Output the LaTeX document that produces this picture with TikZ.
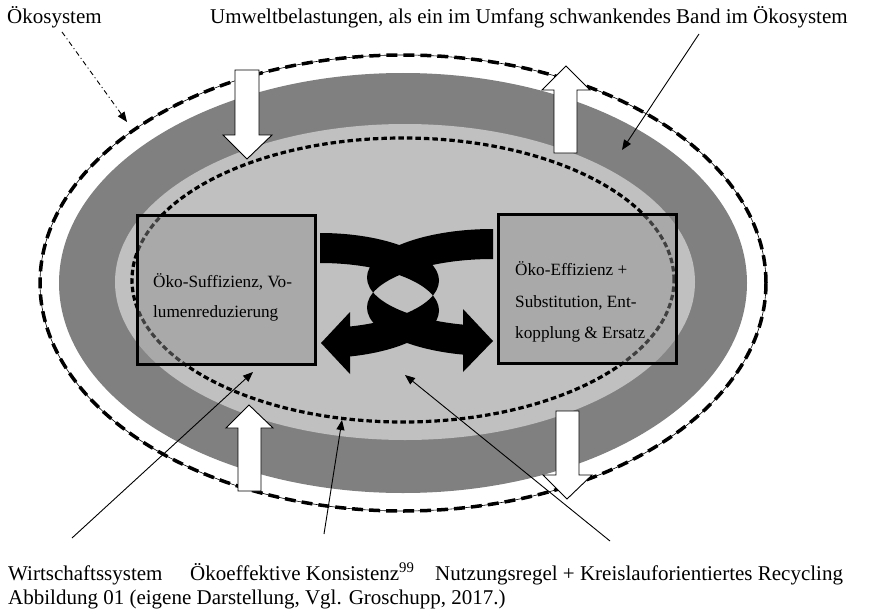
\documentclass[tikz,border=0pt]{standalone}
\usepackage{fontspec}
\setmainfont{Liberation Serif}
\usetikzlibrary{arrows.meta}
\definecolor{darkband}{RGB}{128,128,128}
\definecolor{lightcore}{RGB}{192,192,192}
\begin{document}
\begin{tikzpicture}[x=1pt,y=-1pt,
  lbl/.style={anchor=base west, inner sep=0pt, font=\fontsize{21}{25}\selectfont},
  boxtxt/.style={anchor=base west, inner sep=0pt, font=\fontsize{17.2}{20}\selectfont},
  tbox/.style={draw=black, line width=3pt, fill=black!44, fill opacity=0.45, draw opacity=1, inner sep=0pt, minimum width=178pt, minimum height=149pt},
  blockarrow/.style={draw=black, line width=0.9pt, fill=white, line join=miter},
  callout/.style={draw=black, line width=0.9pt, -{Triangle[length=10pt,width=8pt]}},
  ecocallout/.style={draw=black, line width=0.9pt, dash pattern=on 5pt off 3pt on 1pt off 3pt, -{Triangle[length=10pt,width=8pt]}},
]
\useasboundingbox (0,0) rectangle (870,610);
\fill[white] (0,0) rectangle (870,610);

% ellipses
\fill[darkband] (403,283) ellipse [x radius=344pt, y radius=210pt];
\fill[lightcore] (405,282) ellipse [x radius=290pt, y radius=158pt];
\draw[black, line width=0.6pt] (403,283) ellipse [x radius=363pt, y radius=228pt];
\draw[black, line width=3.5pt, dash pattern=on 11pt off 6pt] (403,283) ellipse [x radius=363pt, y radius=228pt];
\draw[black, line width=3.2pt, dash pattern=on 5.5pt off 3pt] (403,280) ellipse [x radius=271pt, y radius=142pt];

% boxes
\node[tbox] (boxL) at (226,289.5) {};
\node[tbox] (boxR) at (587.5,289) {};
\node[boxtxt] (tL1) at (153,287) {Öko-Suffizienz, Vo-};
\node[boxtxt] (tL2) at (153,317) {lumenreduzierung};
\node[boxtxt] (tR1) at (515,275) {Öko-Effizienz +};
\node[boxtxt] (tR2) at (515,307) {Substitution, Ent-};
\node[boxtxt] (tR3) at (515,338) {kopplung \& Ersatz};

% central curved arrows (right-pointing)
\begin{scope}
  \clip (360,220) -- (493,220) -- (493,292.5) -- (463,292.5) -- (463,385) -- (360,385) -- cycle;
  \fill[black, even odd rule] (493,277.5) ellipse [x radius=126pt, y radius=48.5pt]
                               (493,307.5) ellipse [x radius=126pt, y radius=48.5pt];
\end{scope}
\fill[black] (463,309) -- (493,341) -- (463,372) -- cycle;
% left-pointing
\begin{scope}
  \clip (320,220) -- (446,220) -- (446,385) -- (350,385) -- (350,295.5) -- (320,295.5) -- cycle;
  \fill[black, even odd rule] (320,280.5) ellipse [x radius=119pt, y radius=47.5pt]
                               (320,310.5) ellipse [x radius=119pt, y radius=47.5pt];
\end{scope}
\fill[black] (350,312) -- (321,343) -- (350,374) -- cycle;

% block arrows
\draw[blockarrow] (235,70) -- (259,70) -- (259,135) -- (272,135) -- (247,159) -- (223,135) -- (235,135) -- cycle;
\draw[blockarrow] (554,153) -- (577,153) -- (577,90) -- (590,90) -- (566,66) -- (542,90) -- (554,90) -- cycle;
\draw[blockarrow] (238,491) -- (261,491) -- (261,428) -- (273,428) -- (249,405) -- (226,428) -- (238,428) -- cycle;
\draw[blockarrow] (556,411) -- (579,411) -- (579,475) -- (592,475) -- (567,499) -- (543,475) -- (556,475) -- cycle;

% labels
\node[lbl] (lOko) at (7,24) {Ökosystem};
\node[lbl] (lUmw) at (210,24) {Umweltbelastungen, als ein im Umfang schwankendes Band im Ökosystem};
\node[lbl] (lWirt) at (8,580) {Wirtschaftssystem};
\node[lbl] (lKons) at (190,580) {Ökoeffektive Konsistenz\textsuperscript{99}};
\node[lbl] (lNutz) at (435,580) {Nutzungsregel + Kreislauforientiertes Recycling};
\node[lbl] (lCap) at (8,604) {Abbildung 01 (eigene Darstellung, Vgl. Groschupp, 2017.)};

% callout end points
\coordinate (cOko0) at (62,32);   \coordinate (cOko1) at (127,122);
\coordinate (cUmw0) at (699,34);  \coordinate (cUmw1) at (622,150);
\coordinate (cWirt0) at (72,538); \coordinate (cWirt1) at (253,372);
\coordinate (cKons0) at (324,534);\coordinate (cKons1) at (342,420);
\coordinate (cNutz0) at (610,541);\coordinate (cNutz1) at (405,375);

\draw[ecocallout] (cOko0) -- (cOko1);
\draw[callout] (cUmw0) -- (cUmw1);
\draw[callout] (cWirt0) -- (cWirt1);
\draw[callout] (cKons0) -- (cKons1);
\draw[callout] (cNutz0) -- (cNutz1);
\end{tikzpicture}
\end{document}
